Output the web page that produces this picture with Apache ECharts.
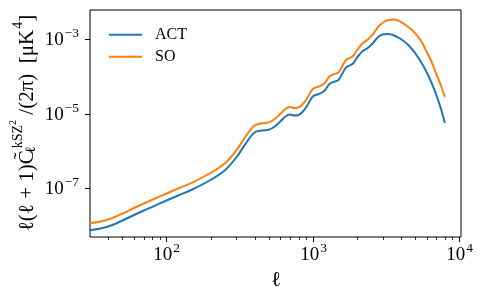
<!DOCTYPE html>
<html>
<head>
<meta charset="utf-8">
<script src="https://cdn.jsdelivr.net/npm/echarts@6/dist/echarts.min.js"></script>
<style>
html,body{margin:0;padding:0;background:#fff;}
#c{width:483px;height:299px;}
</style>
</head>
<body>
<div id="c"></div>
<script>
// multipole values
const ell = [30,40,50,60,70,80,100,120,150,200,250,300,350,400,450,500,550,600,650,700,750,800,900,
  1000,1100,1200,1300,1400,1500,1600,1700,1800,1900,2000,2100,2200,2400,2600,2800,3000,3300,3600,
  4000,4500,5000,5500,6000,6500,7000,7500,8000];
// ACT
const actVals = [7.41e-9,9.38e-9,1.36e-8,1.91e-8,2.52e-8,3.17e-8,4.68e-8,6.37e-8,9.23e-8,1.66e-7,
  2.99e-7,6.67e-7,1.63e-6,3.13e-6,3.54e-6,3.70e-6,4.53e-6,6.18e-6,8.41e-6,9.53e-6,
  8.95e-6,9.23e-6,1.47e-5,2.90e-5,3.38e-5,4.06e-5,6.27e-5,7.23e-5,8.04e-5,1.24e-4,
  1.79e-4,1.97e-4,2.30e-4,3.13e-4,4.01e-4,4.82e-4,5.98e-4,8.15e-4,1.15e-3,1.34e-3,
  1.38e-3,1.26e-3,1.01e-3,6.98e-4,4.27e-4,2.44e-4,1.32e-4,6.67e-5,3.18e-5,1.42e-5,
  5.62e-6];
// SO
const soVals = [1.14e-8,1.45e-8,2.09e-8,2.94e-8,3.88e-8,4.89e-8,7.21e-8,9.82e-8,1.42e-7,2.56e-7,
  4.60e-7,1.03e-6,2.52e-6,4.82e-6,5.52e-6,5.87e-6,7.21e-6,9.82e-6,1.34e-5,1.51e-5,
  1.42e-5,1.47e-5,2.33e-5,4.60e-5,5.37e-5,6.47e-5,9.98e-5,1.15e-4,1.28e-4,1.97e-4,
  2.85e-4,3.13e-4,3.65e-4,4.98e-4,6.37e-4,7.91e-4,1.01e-3,1.42e-3,2.13e-3,2.72e-3,
  3.27e-3,3.38e-3,2.93e-3,2.13e-3,1.47e-3,8.95e-4,4.68e-4,2.44e-4,1.16e-4,5.89e-5,
  2.81e-5];
const seriesNames = ['ACT','SO'];
const xMajorTicks = [100, 1000, 10000];
const xMajorLabels = ['2','3','4'];
const xMinorTicks = [40,50,60,70,80,90,200,300,400,500,600,700,800,900,2000,3000,4000,5000,6000,7000,8000,9000];
const yMajorTicks = [1e-7, 1e-5, 1e-3];
const yMajorLabels = ['−7','−5','−3'];

const FONT = 'Liberation Serif';
const chart = echarts.init(document.getElementById('c'), null, {renderer:'canvas'});
const pair = (vals) => ell.map((l,i)=>[l, vals[i]]);

const hiddenAxis = {axisLine:{show:false}, axisTick:{show:false}, axisLabel:{show:false}, splitLine:{show:false}};
chart.setOption({
  animation:false,
  backgroundColor:'#fff',
  grid:{left:90,right:22,top:10,bottom:62,show:true,borderColor:'#000',borderWidth:1,backgroundColor:'transparent'},
  xAxis:Object.assign({type:'log',logBase:10,min:30,max:10320}, hiddenAxis),
  yAxis:Object.assign({type:'log',logBase:10,min:4.9e-9,max:6.08e-3}, hiddenAxis),
  legend:{left:104,top:21.7,orient:'vertical',itemWidth:33,itemHeight:2,itemGap:6,icon:'rect',
    textStyle:{fontFamily:FONT,fontSize:16,color:'#000',lineHeight:16,padding:[0,0,0,8]},
    data:seriesNames},
  series:[
    {name:seriesNames[0],type:'line',data:pair(actVals),showSymbol:false,symbol:'none',smooth:0.35,
      lineStyle:{width:2,color:'#1f77b4'},itemStyle:{color:'#1f77b4'}},
    {name:seriesNames[1],type:'line',data:pair(soVals),showSymbol:false,symbol:'none',smooth:0.35,
      lineStyle:{width:2,color:'#ff7f0e'},itemStyle:{color:'#ff7f0e'}}
  ]
});

const px = v => chart.convertToPixel({xAxisIndex:0}, v);
const py = v => chart.convertToPixel({yAxisIndex:0}, v);
const gTop = 10, gBottom = 237, gLeft = 90;
const tickRich = {
  b:{fontFamily:FONT,fontSize:19,lineHeight:28,color:'#000'},
  s:{fontFamily:FONT,fontSize:13.5,lineHeight:28,color:'#000',padding:[0,0,14,1]}
};
const g = [];
xMajorTicks.forEach((v,i)=>{
  const X = Math.round(px(v))+0.5;
  g.push({type:'line',shape:{x1:X,y1:gBottom,x2:X,y2:gBottom+5},style:{stroke:'#000',lineWidth:1},silent:true});
  g.push({type:'text',x:X,y:255,style:{text:'{b|10}{s|'+xMajorLabels[i]+'}',rich:tickRich,align:'center',verticalAlign:'middle'},silent:true});
});
xMinorTicks.forEach(v=>{
  const X = Math.round(px(v))+0.5;
  g.push({type:'line',shape:{x1:X,y1:gBottom,x2:X,y2:gBottom+3},style:{stroke:'#000',lineWidth:0.8},silent:true});
});
yMajorTicks.forEach((v,i)=>{
  const Y = Math.round(py(v))+0.5;
  g.push({type:'line',shape:{x1:gLeft-5,y1:Y,x2:gLeft,y2:Y},style:{stroke:'#000',lineWidth:1},silent:true});
  g.push({type:'text',x:79,y:Y+1,style:{text:'{b|10}{s|'+yMajorLabels[i]+'}',rich:tickRich,align:'right',verticalAlign:'middle'},silent:true});
});
// x-axis title
g.push({type:'text',x:276,y:280,style:{text:'ℓ',fontFamily:FONT,fontSize:21,fill:'#000',align:'center',verticalAlign:'middle'},silent:true});
// y-axis title
const yRich = {
  m:{fontFamily:FONT,fontSize:21,lineHeight:34,color:'#000'},
  sub:{fontFamily:FONT,fontSize:14,lineHeight:34,color:'#000',padding:[9,0,0,0],width:1},
  sup:{fontFamily:FONT,fontSize:14,lineHeight:34,color:'#000',padding:[0,0,17,1]},
  sup2:{fontFamily:FONT,fontSize:10,lineHeight:34,color:'#000',padding:[0,0,28,0]}
};
g.push({type:'text',x:27,y:123,rotation:Math.PI/2,
  style:{text:'{m|ℓ(ℓ + 1)C̃}{sub|ℓ}{sup|kSZ}{sup2|2}{m| /(2π)  [μK}{sup|4}{m|]}',rich:yRich,align:'center',verticalAlign:'middle'},silent:true});
chart.setOption({graphic:g});
</script>
</body>
</html>
